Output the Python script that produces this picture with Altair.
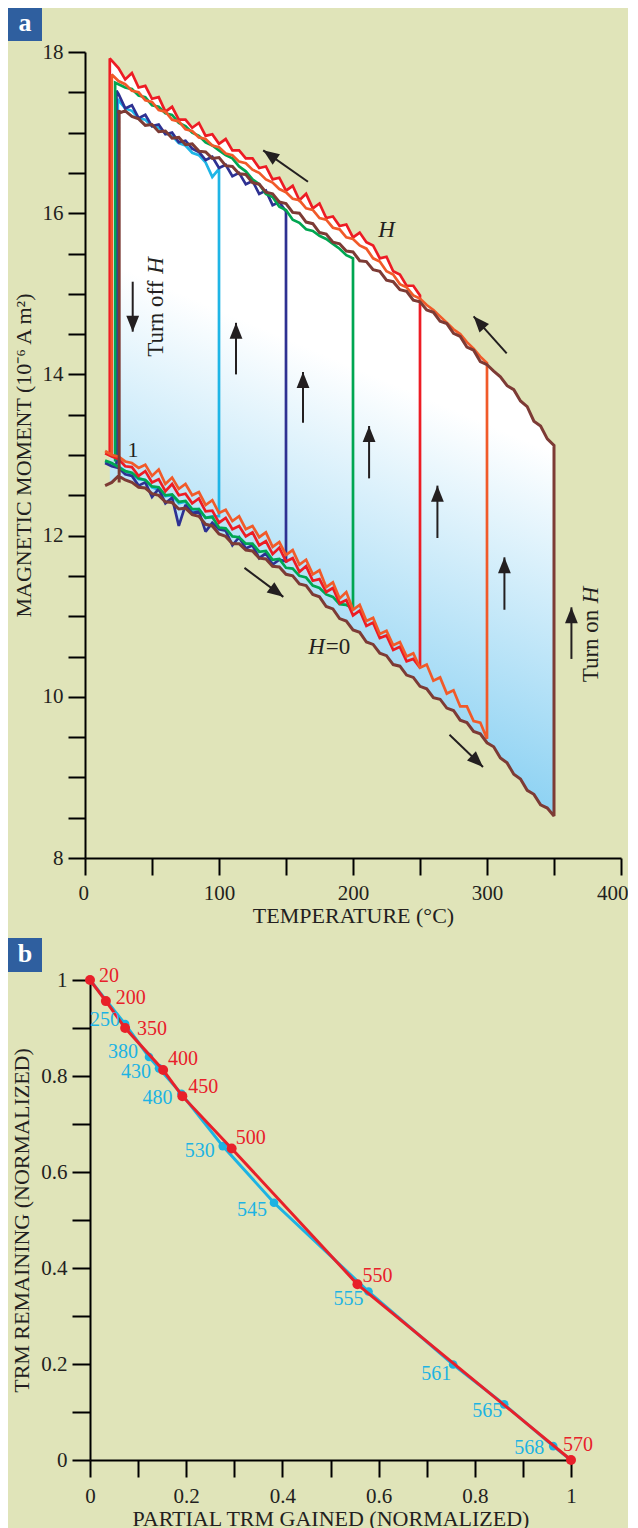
import math
import altair as alt
import pandas as pd

FONT = "Liberation Serif"
INK = "#231f20"
BG = "#e0e4b9"

# ---------------- Panel a: magnetic moment during heating / cooling cycles ----------------
LOW_T = [15, 20, 25, 30, 35, 40, 45, 50, 55, 60, 65, 70, 75, 80, 85, 90, 95, 100,
         105, 110, 115, 120, 125, 130, 135, 140, 145, 150, 155, 160, 165, 170, 175, 180,
         185, 190, 195, 200, 205, 210, 215, 220, 225, 230, 235, 240, 245, 250, 255, 260,
         265, 270, 275, 280, 285, 290, 295, 300, 305, 310, 315, 320, 325, 330, 335, 340,
         345, 350]
UP_T = [25, 30, 35, 40, 45, 50, 55, 60, 65, 70, 75, 80, 85, 90, 95, 100,
        105, 110, 115, 120, 125, 130, 135, 140, 145, 150, 155, 160, 165, 170, 175, 180,
        185, 190, 195, 200, 205, 210, 215, 220, 225, 230, 235, 240, 245, 250, 255, 260,
        265, 270, 275, 280, 285, 290, 295, 300, 305, 310, 315, 320, 325, 330, 335, 340,
        345, 350]

# heating branch (H = 0)
CYAN_LOW = [12.92, 12.88, 12.86, 12.80, 12.76, 12.70, 12.69, 12.60, 12.57, 12.49, 12.50, 12.40,
            12.42, 12.31, 12.33, 12.22, 12.24, 12.24]
NAVY_LOW = [12.90, 12.86, 12.84, 12.76, 12.74, 12.62, 12.66, 12.48, 12.58, 12.40, 12.47, 12.12,
            12.38, 12.28, 12.30, 12.05, 12.16, 12.08, 12.06, 11.88, 11.98, 11.84, 11.88, 11.72,
            11.78, 11.64, 11.70, 11.68]
GREEN_LOW = [12.93, 12.90, 12.85, 12.80, 12.78, 12.71, 12.69, 12.61, 12.60, 12.50,
             12.51, 12.42, 12.43, 12.33, 12.33, 12.22, 12.23, 12.10, 12.09, 11.99,
             11.98, 11.90, 11.90, 11.80, 11.81, 11.70, 11.71, 11.60, 11.59, 11.50,
             11.48, 11.38, 11.35, 11.27, 11.24, 11.15, 11.14, 11.10]
RED_LOW = [13.02, 12.98, 12.95, 12.86, 12.85, 12.74, 12.80, 12.66, 12.70, 12.55,
           12.64, 12.50, 12.52, 12.40, 12.46, 12.30, 12.31, 12.16, 12.22, 12.08,
           12.12, 11.99, 12.04, 11.88, 11.93, 11.77, 11.85, 11.68, 11.72, 11.55,
           11.62, 11.44, 11.46, 11.30, 11.35, 11.16, 11.20, 11.01, 11.07, 10.88,
           10.92, 10.73, 10.76, 10.58, 10.62, 10.44, 10.47, 10.36]
ORANGE_LOW = [13.05, 13.00, 12.98, 12.92, 12.90, 12.84, 12.88, 12.74, 12.82, 12.64,
              12.72, 12.58, 12.64, 12.50, 12.54, 12.38, 12.44, 12.28, 12.32, 12.18,
              12.24, 12.08, 12.12, 11.98, 12.04, 11.86, 11.92, 11.76, 11.82, 11.64,
              11.70, 11.52, 11.57, 11.36, 11.42, 11.22, 11.30, 11.08, 11.14, 10.94,
              10.98, 10.78, 10.82, 10.64, 10.68, 10.50, 10.54, 10.36, 10.40, 10.20,
              10.24, 10.04, 10.08, 9.88, 9.88, 9.70, 9.68, 9.48]
BROWN_LOW = [12.62, 12.66, 12.74, 12.69, 12.66, 12.60, 12.59, 12.52, 12.50, 12.42,
             12.41, 12.33, 12.34, 12.26, 12.24, 12.14, 12.12, 12.02, 11.99, 11.90,
             11.90, 11.82, 11.81, 11.72, 11.71, 11.62, 11.61, 11.52, 11.50, 11.40,
             11.38, 11.27, 11.24, 11.12, 11.09, 10.97, 10.94, 10.83, 10.80, 10.68,
             10.65, 10.54, 10.51, 10.40, 10.38, 10.27, 10.24, 10.13, 10.10, 9.99,
             9.97, 9.86, 9.83, 9.71, 9.68, 9.57, 9.54, 9.43, 9.38, 9.24,
             9.18, 9.04, 8.98, 8.84, 8.79, 8.66, 8.62, 8.52]

# cooling branch (field H on)
CYAN_UP = [17.40, 17.30, 17.27, 17.18, 17.16, 17.08, 17.06, 16.99, 16.96, 16.87, 16.84, 16.75,
           16.72, 16.63, 16.45, 16.55]
NAVY_UP = [17.48, 17.30, 17.34, 17.18, 17.22, 17.08, 17.10, 16.98, 17.00, 16.88, 16.90, 16.80,
           16.76, 16.66, 16.70, 16.56, 16.60, 16.46, 16.50, 16.36, 16.40, 16.24, 16.28, 16.10,
           16.14, 16.02]
GREEN_UP = [17.60, 17.56, 17.54, 17.46, 17.44, 17.34, 17.32, 17.24, 17.22, 17.12,
            17.08, 17.00, 16.96, 16.88, 16.84, 16.78, 16.72, 16.68, 16.58, 16.52,
            16.42, 16.36, 16.24, 16.20, 16.08, 16.04, 15.92, 15.88, 15.80, 15.78,
            15.72, 15.68, 15.62, 15.56, 15.48, 15.44]
RED_UP = [17.80, 17.66, 17.74, 17.56, 17.58, 17.42, 17.44, 17.26, 17.32, 17.16,
          17.16, 17.06, 17.12, 16.96, 16.98, 16.86, 16.92, 16.78, 16.78, 16.68,
          16.68, 16.56, 16.58, 16.42, 16.44, 16.28, 16.34, 16.16, 16.24, 16.06,
          16.12, 15.94, 15.96, 15.84, 15.86, 15.70, 15.76, 15.64, 15.60, 15.44,
          15.46, 15.28, 15.24, 15.10, 15.10, 14.98]
ORANGE_UP = [17.64, 17.60, 17.52, 17.50, 17.40, 17.38, 17.28, 17.26, 17.16, 17.14,
             17.04, 17.02, 16.94, 16.92, 16.84, 16.82, 16.74, 16.72, 16.64, 16.62,
             16.54, 16.50, 16.42, 16.38, 16.30, 16.26, 16.18, 16.16, 16.06, 16.04,
             15.94, 15.92, 15.82, 15.80, 15.70, 15.68, 15.60, 15.56, 15.44, 15.40,
             15.28, 15.24, 15.12, 15.08, 14.98, 14.94, 14.86, 14.80, 14.72, 14.64,
             14.56, 14.50, 14.40, 14.32, 14.22, 14.14]
BROWN_UP = [17.24, 17.27, 17.20, 17.17, 17.09, 17.10, 17.01, 17.02, 16.93, 16.94,
            16.85, 16.86, 16.77, 16.76, 16.68, 16.69, 16.59, 16.58, 16.49, 16.48,
            16.38, 16.36, 16.26, 16.24, 16.14, 16.12, 16.01, 16.00, 15.89, 15.87,
            15.76, 15.74, 15.64, 15.62, 15.53, 15.52, 15.41, 15.40, 15.30, 15.28,
            15.17, 15.15, 15.05, 15.03, 14.92, 14.90, 14.80, 14.77, 14.66, 14.63,
            14.51, 14.47, 14.34, 14.30, 14.16, 14.12, 14.04, 13.97, 13.86, 13.81,
            13.67, 13.60, 13.42, 13.36, 13.20, 13.12]

# "turn off H" drops at room temperature (cyan, navy, green, red, orange, brown)
LEFT_T = [24.5, 23.5, 22.5, 18.5, 20.0, 25.5]
LEFT_TOP = [17.42, 17.52, 17.62, 17.92, 17.72, 17.28]
LEFT_BOTTOM = [12.90, 12.88, 12.92, 13.02, 13.00, 12.66]

LOWS = [CYAN_LOW, NAVY_LOW, GREEN_LOW, RED_LOW, ORANGE_LOW, BROWN_LOW]
UPS = [CYAN_UP, NAVY_UP, GREEN_UP, RED_UP, ORANGE_UP, BROWN_UP]
LOOP_COLORS = ["#1fb5e6", "#2e3192", "#00a651", "#ed1c24", "#f15a29", "#7d3b35"]
LOOP_WIDTHS = [2.7, 2.7, 2.7, 2.7, 2.7, 3.0]

# arrows (tail -> tip)
ARROW_TAIL_T = [166.4, 314.7, 119.0, 272.0, 35.6, 112.7, 162.7, 212.0, 263.0, 313.0, 363.0]
ARROW_TAIL_M = [16.39, 14.26, 11.60, 9.53, 15.15, 14.00, 13.40, 12.71, 11.97, 11.08, 10.47]
ARROW_TIP_T = [133.0, 290.0, 148.0, 297.0, 35.6, 112.7, 162.7, 212.0, 263.0, 313.0, 363.0]
ARROW_TIP_M = [16.78, 14.72, 11.24, 9.13, 14.53, 14.64, 14.03, 13.36, 12.62, 11.73, 11.11]

A_W, A_H = 536, 806
A_XTICKS = [0, 50, 100, 150, 200, 250, 300, 350, 400]
A_YTICKS = [8, 8.5, 9, 9.5, 10, 10.5, 11, 11.5, 12, 12.5, 13, 13.5, 14, 14.5, 15, 15.5,
            16, 16.5, 17, 17.5, 18]

# ---------------- Panel b: Arai-type plot ----------------
RED_STEPS = [20, 200, 350, 400, 450, 500, 550, 570]
RED_GAINED = [0.0, 0.033, 0.073, 0.152, 0.192, 0.2945, 0.556, 1.0]
RED_REMAIN = [1.0, 0.956, 0.900, 0.8125, 0.758, 0.649, 0.366, 0.0]
CYAN_STEPS = [250, 380, 430, 480, 530, 545, 555, 561, 565, 568]
CYAN_GAINED = [0.073, 0.1227, 0.1435, 0.190, 0.276, 0.3825, 0.579, 0.755, 0.861, 0.963]
CYAN_REMAIN = [0.908, 0.8396, 0.816, 0.763, 0.654, 0.536, 0.351, 0.199, 0.116, 0.029]
B_TICKS = [0, 0.1, 0.2, 0.3, 0.4, 0.5, 0.6, 0.7, 0.8, 0.9, 1.0]

# label placement (pixel offsets from each point) -- layout only
RED_LABEL_DX = [9, 10, 12, 5, 6, 4, 5, -8]
RED_LABEL_DY = [-4, -3, 1, -11, -9, -10, -8, -15]
CYAN_LABEL_DX = [-5, -11, -8, -9, -8, -7, -5, -2, -2, -9]
CYAN_LABEL_DY = [-4, -5, 4, 4, 5, 7, 7, 10, 7, 2]

RED_B = "#e8202a"
CYAN_B = "#1db3e3"

# ======================= build panel a =======================
xa_scale = alt.Scale(domain=[0, 400], nice=False)
ya_scale = alt.Scale(domain=[8, 18], nice=False, zero=False)
xa_axis = alt.Axis(values=A_XTICKS, labelExpr="datum.value % 100 == 0 ? format(datum.value, 'd') : ''",
                   tickSize=17, labelPadding=7, titlePadding=2, labelFlush=True, labelFlushOffset=7,
                   title="TEMPERATURE (°C)")
ya_axis = alt.Axis(values=A_YTICKS, labelExpr="datum.value % 2 == 0 ? format(datum.value, 'd') : ''",
                   tickSize=17, labelPadding=5, titlePadding=7, title="MAGNETIC MOMENT (10⁻⁶ A m²)")


def XA(field):
    return alt.X(field, type="quantitative", scale=xa_scale, axis=xa_axis)


def YA(field):
    return alt.Y(field, type="quantitative", scale=ya_scale, axis=ya_axis)


def loop_frame(low, up, lt, ltop, lbot):
    pts = list(zip(LOW_T[:len(low)], low))
    pts += list(zip(UP_T[:len(up)], up))[::-1]
    pts += [(lt, ltop), (lt, lbot)]
    return pd.DataFrame({"T": [p[0] for p in pts], "M": [p[1] for p in pts],
                         "seq": list(range(len(pts)))})


# envelope of all loops for the shaded region
env = [(min(LEFT_T), max(LEFT_TOP), min(LEFT_BOTTOM))]
for i, t in enumerate(LOW_T):
    if t < 20:
        continue
    lows = [l[i] for l in LOWS if i < len(l)]
    ups = []
    if t in UP_T:
        j = UP_T.index(t)
        ups = [u[j] for u in UPS if j < len(u)]
    top = max(ups) if ups else max(LEFT_TOP)
    env.append((t, top, min(lows)))
env_df = pd.DataFrame(env, columns=["T", "top", "bottom"])

fill_a = alt.Chart(env_df).mark_area(
    color=alt.LinearGradient(
        gradient="linear",
        stops=[alt.GradientStop(color="#ffffff", offset=0),
               alt.GradientStop(color="#86cff2", offset=1)],
        x1=0.52, y1=0.40, x2=0.40, y2=0.88),
    opacity=1,
).encode(x=XA("T"), y=YA("top"), y2="bottom")

layers_a = [fill_a]
for low, up, lt, ltop, lbot, col, w in zip(LOWS, UPS, LEFT_T, LEFT_TOP, LEFT_BOTTOM,
                                         LOOP_COLORS, LOOP_WIDTHS):
    df = loop_frame(low, up, lt, ltop, lbot)
    layers_a.append(
        alt.Chart(df).mark_line(color=col, strokeWidth=w, strokeJoin="miter", strokeMiterLimit=2)
        .encode(x=XA("T"), y=YA("M"), order="seq:Q")
    )

px_T = A_W / 400.0
px_M = A_H / 10.0
arrow_df = pd.DataFrame({"tT": ARROW_TAIL_T, "tM": ARROW_TAIL_M,
                         "hT": ARROW_TIP_T, "hM": ARROW_TIP_M})
arrow_df["angle"] = [
    (math.degrees(math.atan2((ht - tt) * px_T, (hm - tm) * px_M)) + 360) % 360
    for tt, tm, ht, hm in zip(ARROW_TAIL_T, ARROW_TAIL_M, ARROW_TIP_T, ARROW_TIP_M)
]
layers_a.append(
    alt.Chart(arrow_df).mark_rule(color=INK, strokeWidth=2)
    .encode(x=XA("tT"), y=YA("tM"), x2="hT", y2="hM")
)
layers_a.append(
    alt.Chart(arrow_df).mark_point(shape="M0,0L0.8,2L-0.8,2Z", filled=True, color=INK,
                                   size=256, opacity=1, strokeWidth=0)
    .encode(x=XA("hT"), y=YA("hM"), angle=alt.Angle("angle:Q", scale=None))
)


def text_a(rows, **props):
    df = pd.DataFrame(rows, columns=["T", "M", "label"])
    base = dict(font=FONT, fontSize=23, color=INK, baseline="middle")
    base.update(props)
    return alt.Chart(df).mark_text(**base).encode(x=XA("T"), y=YA("M"), text="label:N")


layers_a += [
    text_a([(35.8, 13.06, "1")], align="center", fontSize=22),
    text_a([(225.0, 15.79, "H")], align="center", fontStyle="italic"),
    text_a([(179.0, 10.62, "H")], align="right", fontStyle="italic"),
    text_a([(179.0, 10.62, "=0")], align="left", dx=1),
    text_a([(53.0, 14.22, "Turn off")], align="left", angle=270),
    text_a([(53.0, 14.22, "H")], align="left", angle=270, fontStyle="italic", dx=83),
    text_a([(377.6, 10.18, "Turn on")], align="left", angle=270),
    text_a([(377.6, 10.18, "H")], align="left", angle=270, fontStyle="italic", dx=79),
]

one = pd.DataFrame({"k": [0]})
layers_a.append(alt.Chart(one).mark_rect(color="#2f5f9f").encode(
    x=alt.value(-77), x2=alt.value(-43), y=alt.value(-44), y2=alt.value(-11)))
layers_a.append(alt.Chart(one).mark_text(text="a", font=FONT, fontSize=26, fontWeight="bold",
                                         color="white", align="center", baseline="middle")
                .encode(x=alt.value(-60), y=alt.value(-29)))

panel_a = alt.layer(*layers_a).properties(width=A_W, height=A_H)

# ======================= build panel b =======================
B_W, B_H = 486, 480
xb_scale = alt.Scale(domain=[0, 1], range=[5, B_W], nice=False)
yb_scale = alt.Scale(domain=[0, 1], nice=False)
b_label_expr = "round(datum.value * 10) % 2 == 0 ? format(datum.value, '~g') : ''"
xb_axis = alt.Axis(values=B_TICKS, labelExpr=b_label_expr, tickSize=17, labelPadding=8,
                   titlePadding=2, labelFlush=False, title="PARTIAL TRM GAINED (NORMALIZED)")
yb_axis = alt.Axis(values=B_TICKS, labelExpr=b_label_expr, tickSize=18, labelPadding=5,
                   titlePadding=7, offset=-5, title="TRM REMAINING (NORMALIZED)")


def XB(field):
    return alt.X(field, type="quantitative", scale=xb_scale, axis=xb_axis)


def YB(field):
    return alt.Y(field, type="quantitative", scale=yb_scale, axis=yb_axis)


red_df = pd.DataFrame({"g": RED_GAINED, "r": RED_REMAIN, "step": RED_STEPS,
                       "seq": list(range(len(RED_STEPS)))})
cyan_line_df = pd.DataFrame({
    "g": [RED_GAINED[0]] + CYAN_GAINED + [RED_GAINED[-1]],
    "r": [RED_REMAIN[0]] + CYAN_REMAIN + [RED_REMAIN[-1]],
    "seq": list(range(len(CYAN_GAINED) + 2)),
})
cyan_df = pd.DataFrame({"g": CYAN_GAINED, "r": CYAN_REMAIN, "step": CYAN_STEPS})

fill_b = alt.Chart(red_df).mark_area(
    color=alt.LinearGradient(
        gradient="linear",
        stops=[alt.GradientStop(color="#ffffff", offset=0),
               alt.GradientStop(color="#96d5f4", offset=1)],
        x1=0.5, y1=0.5, x2=0.0, y2=1.0),
    opacity=1,
).encode(x=XB("g"), y=YB("r"), y2=alt.datum(0), order="seq:Q")

layers_b = [
    fill_b,
    alt.Chart(cyan_line_df).mark_line(color=CYAN_B, strokeWidth=3)
    .encode(x=XB("g"), y=YB("r"), order="seq:Q"),
    alt.Chart(cyan_df).mark_circle(color=CYAN_B, size=75, opacity=1)
    .encode(x=XB("g"), y=YB("r")),
    alt.Chart(red_df).mark_line(color=RED_B, strokeWidth=3)
    .encode(x=XB("g"), y=YB("r"), order="seq:Q"),
    alt.Chart(red_df).mark_circle(color=RED_B, size=100, opacity=1)
    .encode(x=XB("g"), y=YB("r")),
]

for g, r, s, dx, dy in zip(RED_GAINED, RED_REMAIN, RED_STEPS, RED_LABEL_DX, RED_LABEL_DY):
    df = pd.DataFrame({"g": [g], "r": [r], "label": [str(s)]})
    layers_b.append(alt.Chart(df).mark_text(font=FONT, fontSize=20, color=RED_B, align="left",
                                            baseline="middle", dx=dx, dy=dy)
                    .encode(x=XB("g"), y=YB("r"), text="label:N"))
for g, r, s, dx, dy in zip(CYAN_GAINED, CYAN_REMAIN, CYAN_STEPS, CYAN_LABEL_DX, CYAN_LABEL_DY):
    df = pd.DataFrame({"g": [g], "r": [r], "label": [str(s)]})
    layers_b.append(alt.Chart(df).mark_text(font=FONT, fontSize=20, color=CYAN_B, align="right",
                                            baseline="middle", dx=dx, dy=dy)
                    .encode(x=XB("g"), y=YB("r"), text="label:N"))

layers_b.append(alt.Chart(one).mark_rect(color="#2f5f9f").encode(
    x=alt.value(-77), x2=alt.value(-43), y=alt.value(-42), y2=alt.value(-8)))
layers_b.append(alt.Chart(one).mark_text(text="b", font=FONT, fontSize=26, fontWeight="bold",
                                         color="white", align="center", baseline="middle")
                .encode(x=alt.value(-60), y=alt.value(-26)))

panel_b = alt.layer(*layers_b).properties(width=B_W, height=B_H)

chart = (
    alt.vconcat(panel_a, panel_b, spacing=12)
    .properties(background=BG, padding=0)
    .configure_view(stroke=None)
    .configure_axis(domainColor="black", domainWidth=2, tickColor="black", tickWidth=2,
                    labelFont=FONT, labelFontSize=21, labelColor=INK,
                    titleFont=FONT, titleFontSize=22, titleFontWeight="normal", titleColor=INK,
                    grid=False, labelOverlap=False, labelBound=False)
)

chart.save("out.html", embed_options={"renderer": "svg", "actions": False})
